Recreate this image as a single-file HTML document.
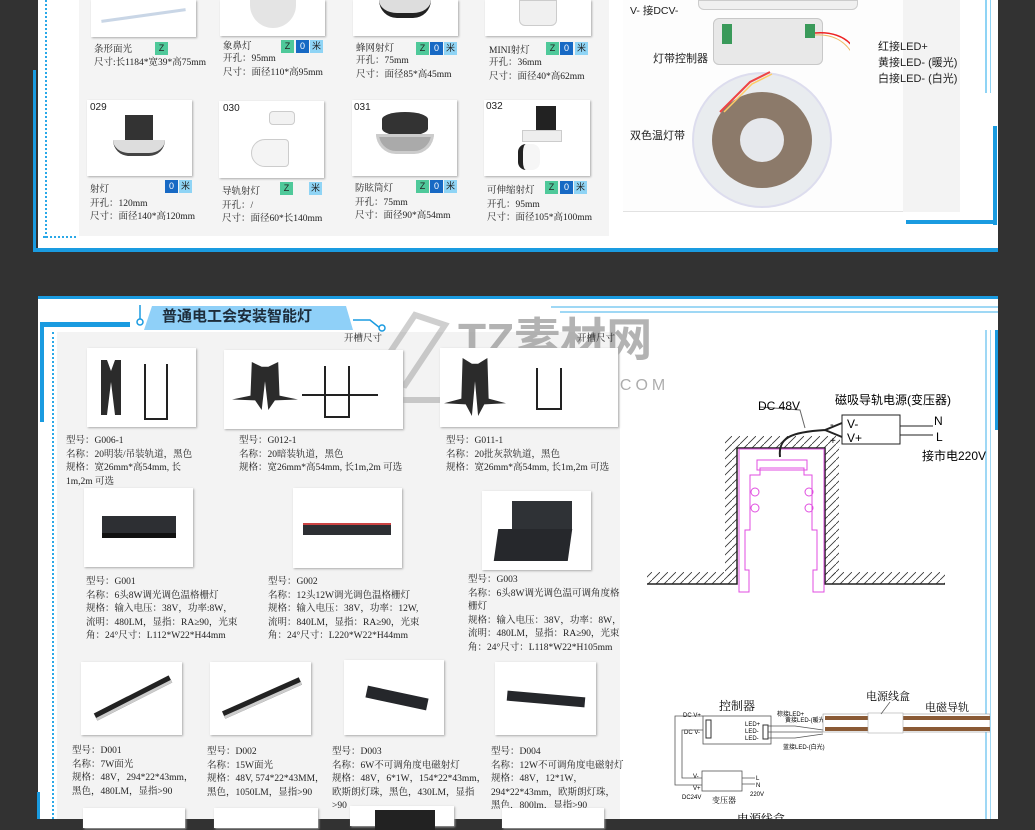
<!DOCTYPE html>
<html><head><meta charset="utf-8"><style>
*{margin:0;padding:0;box-sizing:border-box}
body{width:1035px;height:819px;overflow:hidden;background:#323232;position:relative;font-family:"Liberation Serif","Noto Serif CJK SC",serif;color:#222}
.a{position:absolute}
.t{position:absolute;font-size:9.5px;line-height:13.5px;white-space:nowrap}
.s{font-family:"Liberation Sans","Noto Sans CJK SC",sans-serif}
.img{position:absolute;background:#fff;box-shadow:1px 1px 2px #aaa}
.tag{position:absolute;width:13px;height:13px;font-size:9px;line-height:13px;text-align:center;font-family:"Liberation Sans","Noto Sans CJK SC",sans-serif}
.z{background:#4fc99a}.o{background:#1769c4;color:#fff}.m{background:#8fd4f5}
</style></head><body>

<!-- TOP PANEL -->
<div class="a" style="left:38px;top:0;width:960px;height:252px;background:#fff"></div>
<div class="a" style="left:79px;top:0;width:530px;height:236px;background:#f4f4f4"></div>
<div class="a" style="left:33px;top:70px;width:3px;height:182px;background:#1a9be0"></div>
<div class="a" style="left:33px;top:248px;width:965px;height:4px;background:#1a9be0"></div>
<div class="a" style="left:45px;top:0;width:0;height:238px;border-left:2px dotted #2aa8e8"></div>
<div class="a" style="left:43px;top:236px;width:33px;height:0;border-top:2px dotted #2aa8e8"></div>
<div class="a" style="left:993px;top:126px;width:4px;height:99px;background:#1a9be0"></div>
<div class="a" style="left:906px;top:220px;width:91px;height:4px;background:#1a9be0"></div>
<div class="a" style="left:985px;top:0;width:2px;height:93px;background:#8fd4f5"></div>
<div class="a" style="left:990px;top:0;width:1px;height:93px;background:#8fd4f5"></div>

<!-- top row images -->
<div class="img" style="left:91px;top:0;width:105px;height:37px"><div class="a" style="left:10px;top:14px;width:85px;height:3px;background:#c9d6e6;transform:rotate(-8deg)"></div></div>
<div class="img" style="left:220px;top:0;width:105px;height:36px"><div class="a" style="left:30px;top:0;width:46px;height:28px;border-radius:0 0 30px 30px;background:#e4e4e4"></div></div>
<div class="img" style="left:353px;top:0;width:105px;height:36px"><div class="a" style="left:26px;top:0;width:52px;height:18px;border-radius:0 0 20px 20px;background:#ddd;border-bottom:5px solid #222"></div></div>
<div class="img" style="left:485px;top:0;width:106px;height:36px"><div class="a" style="left:34px;top:0;width:38px;height:26px;border-radius:0 0 6px 6px;background:#f0f0f0;border:1px solid #ccc"></div></div>

<div class="t" style="left:94px;top:44px">条形面光</div><div class="tag z" style="left:155px;top:42px">Z</div>
<div class="t" style="left:94px;top:57px">尺寸:长1184*宽39*高75mm</div>
<div class="t" style="left:223px;top:41px">象鼻灯</div><div class="tag z" style="left:281px;top:40px">Z</div><div class="tag o" style="left:296px;top:40px">0</div><div class="tag m" style="left:310px;top:40px">米</div>
<div class="t" style="left:223px;top:53px">开孔：95mm<br>尺寸：面径110*高95mm</div>
<div class="t" style="left:356px;top:43px">蜂网射灯</div><div class="tag z" style="left:416px;top:42px">Z</div><div class="tag o" style="left:430px;top:42px">0</div><div class="tag m" style="left:444px;top:42px">米</div>
<div class="t" style="left:356px;top:55px">开孔：75mm<br>尺寸：面径85*高45mm</div>
<div class="t" style="left:489px;top:45px">MINI射灯</div><div class="tag z" style="left:546px;top:42px">Z</div><div class="tag o" style="left:560px;top:42px">0</div><div class="tag m" style="left:575px;top:42px">米</div>
<div class="t" style="left:489px;top:57px">开孔：36mm<br>尺寸：面径40*高62mm</div>

<!-- second row -->
<div class="img" style="left:87px;top:100px;width:105px;height:76px"><div class="t s" style="left:3px;top:1px;font-size:10px">029</div><div class="a" style="left:38px;top:15px;width:28px;height:28px;background:#333"></div><div class="a" style="left:26px;top:40px;width:52px;height:16px;border-radius:0 0 26px 26px;background:#ddd;border-bottom:3px solid #444"></div></div>
<div class="img" style="left:219px;top:101px;width:105px;height:77px"><div class="t s" style="left:4px;top:1px;font-size:10px">030</div><div class="a" style="left:50px;top:10px;width:26px;height:14px;background:#f2f2f2;border:1px solid #ccc;border-radius:4px"></div><div class="a" style="left:32px;top:38px;width:38px;height:28px;background:#f4f4f4;border:1px solid #ccc;border-radius:14px 4px 4px 14px"></div></div>
<div class="img" style="left:352px;top:100px;width:105px;height:76px"><div class="t s" style="left:2px;top:1px;font-size:10px">031</div><div class="a" style="left:30px;top:12px;width:46px;height:24px;background:#333;border-radius:50%/30%"></div><div class="a" style="left:24px;top:34px;width:58px;height:20px;border-radius:0 0 29px 29px;background:#aaa;border:3px solid #ccc"></div></div>
<div class="img" style="left:484px;top:100px;width:106px;height:76px"><div class="t s" style="left:2px;top:0;font-size:10px">032</div><div class="a" style="left:52px;top:6px;width:20px;height:24px;background:#222"></div><div class="a" style="left:38px;top:30px;width:40px;height:12px;background:#eee;border:1px solid #ccc"></div><div class="a" style="left:34px;top:44px;width:22px;height:26px;background:#f6f6f6;border-left:5px solid #222;border-radius:8px"></div></div>

<div class="tag o" style="left:165px;top:180px">0</div><div class="tag m" style="left:179px;top:180px">米</div>
<div class="t" style="left:90px;top:184px">射灯<br>开孔：120mm<br>尺寸：面径140*高120mm</div>
<div class="tag z" style="left:280px;top:182px">Z</div><div class="tag m" style="left:309px;top:182px">米</div>
<div class="t" style="left:222px;top:186px">导轨射灯<br>开孔：/<br>尺寸：面径60*长140mm</div>
<div class="tag z" style="left:416px;top:180px">Z</div><div class="tag o" style="left:430px;top:180px">0</div><div class="tag m" style="left:444px;top:180px">米</div>
<div class="t" style="left:355px;top:183px">防眩筒灯<br>开孔：75mm<br>尺寸：面径90*高54mm</div>
<div class="tag z" style="left:545px;top:181px">Z</div><div class="tag o" style="left:560px;top:181px">0</div><div class="tag m" style="left:574px;top:181px">米</div>
<div class="t" style="left:487px;top:185px">可伸缩射灯<br>开孔：95mm<br>尺寸：面径105*高100mm</div>

<!-- LED strip area -->
<div class="a" style="left:623px;top:0;width:337px;height:212px;background:#fdfdfd;border-bottom:1px solid #e2e2e2"></div>
<div class="a" style="left:903px;top:0;width:57px;height:212px;background:#f3f3f3"></div>
<div class="a" style="left:698px;top:0;width:160px;height:10px;background:#f0f0f0;border:1px solid #ccc;border-radius:0 0 6px 6px"></div>
<div class="a" style="left:713px;top:18px;width:110px;height:47px;background:#e8e8e8;border:1px solid #c8c8c8;border-radius:6px"></div>
<div class="a" style="left:722px;top:24px;width:10px;height:20px;background:#3a9a5a"></div>
<div class="a" style="left:805px;top:24px;width:10px;height:14px;background:#3a9a5a"></div>
<div class="a" style="left:692px;top:72px;width:140px;height:136px;border-radius:50%;background:#e9ecef;border:2px solid #dde"></div>
<div class="a" style="left:712px;top:92px;width:100px;height:96px;border-radius:50%;background:#8c7a6a"></div>
<div class="a" style="left:740px;top:118px;width:44px;height:44px;border-radius:50%;background:#e6e8ec"></div>
<svg class="a" style="left:620px;top:0" width="230" height="160"><path d="M195 33 C235 30 250 60 245 115" stroke="#e22" fill="none" stroke-width="1.5"/><path d="M195 35 C230 33 245 62 242 115" stroke="#eb6" fill="none" stroke-width="1"/><path d="M150 72 L130 82 L100 112" stroke="#e44" fill="none" stroke-width="2"/><path d="M152 74 L132 84 L104 112" stroke="#fc6" fill="none" stroke-width="1.5"/></svg>
<div class="t s" style="left:630px;top:5px;font-size:10.5px">V- 接DCV-</div>
<div class="t s" style="left:653px;top:53px;font-size:11px">灯带控制器</div>
<div class="t s" style="left:630px;top:130px;font-size:11px">双色温灯带</div>
<div class="t s" style="left:878px;top:39px;font-size:11px;line-height:16px">红接LED+<br>黄接LED- (暖光)<br>白接LED- (白光)</div>

<!-- BOTTOM PANEL -->
<div class="a" style="left:38px;top:296px;width:960px;height:523px;background:#fff"></div>
<div class="a" style="left:38px;top:296px;width:960px;height:3px;background:#1a9be0"></div>
<div class="a" style="left:57px;top:332px;width:563px;height:487px;background:#f3f3f3"></div>
<div class="a" style="left:40px;top:322px;width:90px;height:5px;background:#1a9be0"></div>
<div class="a" style="left:40px;top:322px;width:4px;height:100px;background:#1a9be0"></div>
<div class="a" style="left:37px;top:792px;width:3px;height:27px;background:#1a9be0"></div>
<div class="a" style="left:52px;top:332px;width:0;height:487px;border-left:2px dotted #2aa8e8"></div>
<div class="a" style="left:551px;top:306px;width:447px;height:2px;background:#9fd8f5"></div>
<div class="a" style="left:560px;top:311px;width:438px;height:2px;background:#9fd8f5"></div>
<div class="a" style="left:985px;top:330px;width:2px;height:489px;background:#9fd8f5"></div>
<div class="a" style="left:990px;top:330px;width:1px;height:489px;background:#9fd8f5"></div>
<div class="a" style="left:995px;top:330px;width:3px;height:100px;background:#1a9be0"></div>
<!-- title tab -->
<svg class="a" style="left:128px;top:298px" width="260" height="40"><path d="M12 7 L12 22" stroke="#1a9be0" stroke-width="1.5"/><circle cx="12" cy="24" r="3" fill="#fff" stroke="#1a9be0" stroke-width="1.5"/><path d="M24 8 L218 8 L225 32 L16 32 Z" fill="#8fd0f8"/><path d="M225 22 L242 22 L252 30" stroke="#1a9be0" stroke-width="1.5" fill="none"/><circle cx="254" cy="30" r="3" fill="#fff" stroke="#1a9be0" stroke-width="1.5"/></svg>
<div class="t s" style="left:162px;top:308px;font-size:15px;line-height:18px;font-weight:bold;color:#1d2c3a">普通电工会安装智能灯</div>

<!-- watermark -->
<svg class="a" style="left:355px;top:305px" width="110" height="120" opacity="0.35"><path d="M20 70 L60 10 L90 20 L50 80 Z M20 70 L20 95 L100 95 L100 80" stroke="#777" stroke-width="6" fill="none"/></svg>
<div class="t s" style="left:458px;top:312px;font-size:46px;line-height:56px;color:#9a9a9a;font-weight:bold;opacity:.75">TZ素材网</div>
<div class="t s" style="left:515px;top:376px;font-size:16px;line-height:20px;color:#999;letter-spacing:4px;opacity:.8">TZSUCAI.COM</div>

<!-- track rows -->
<div class="t" style="left:344px;top:333px">开槽尺寸</div>
<div class="t" style="left:577px;top:333px">开槽尺寸</div>
<div class="img" style="left:87px;top:348px;width:109px;height:79px"><div class="a" style="left:14px;top:12px;width:20px;height:55px;background:#2b2b2b;clip-path:polygon(0 0,30% 0,50% 20%,70% 0,100% 0,100% 100%,70% 100%,50% 40%,30% 100%,0 100%)"></div><div class="a" style="left:57px;top:16px;width:24px;height:56px;border:2px solid #222;border-top:none"></div></div>
<div class="img" style="left:224px;top:350px;width:179px;height:79px"><div class="a" style="left:8px;top:12px;width:66px;height:48px;background:#2b2b2b;clip-path:polygon(30% 0,45% 10%,55% 10%,70% 0,72% 70%,100% 78%,65% 80%,55% 100%,50% 40%,45% 100%,35% 80%,0 78%,28% 70%)"></div><div class="a" style="left:100px;top:16px;width:26px;height:52px;border:2px solid #222;border-top:none"></div><div class="a" style="left:78px;top:44px;width:76px;height:2px;background:#222"></div></div>
<div class="img" style="left:440px;top:348px;width:178px;height:79px"><div class="a" style="left:4px;top:10px;width:62px;height:58px;background:#2b2b2b;clip-path:polygon(30% 0,45% 10%,55% 10%,70% 0,72% 70%,100% 78%,65% 80%,55% 100%,50% 40%,45% 100%,35% 80%,0 78%,28% 70%)"></div><div class="a" style="left:96px;top:20px;width:26px;height:42px;border:2px solid #222;border-top:none"></div></div>
<div class="t" style="left:66px;top:435px">型号：G006-1<br>名称：20明装/吊装轨道，黑色<br>规格：宽26mm*高54mm, 长<br>1m,2m 可选</div>
<div class="t" style="left:239px;top:435px">型号：G012-1<br>名称：20暗装轨道，黑色<br>规格：宽26mm*高54mm, 长1m,2m 可选</div>
<div class="t" style="left:446px;top:435px">型号：G011-1<br>名称：20批灰款轨道，黑色<br>规格：宽26mm*高54mm, 长1m,2m 可选</div>

<div class="img" style="left:84px;top:488px;width:109px;height:79px"><div class="a" style="left:18px;top:28px;width:74px;height:22px;background:#2d2f33;border-bottom:5px solid #111"></div></div>
<div class="img" style="left:293px;top:488px;width:109px;height:80px"><div class="a" style="left:10px;top:35px;width:88px;height:12px;background:#2d2f33;border-top:2px solid #c44"></div></div>
<div class="img" style="left:482px;top:491px;width:109px;height:79px"><div class="a" style="left:30px;top:10px;width:60px;height:28px;background:#2f3236"></div><div class="a" style="left:14px;top:38px;width:74px;height:32px;background:#26282c;transform:skewX(-8deg)"></div></div>
<div class="t" style="left:86px;top:576px">型号：G001<br>名称：6头8W调光调色温格栅灯<br>规格：输入电压：38V，功率:8W，<br>流明：480LM，显指：RA≥90，光束<br>角：24°尺寸：L112*W22*H44mm</div>
<div class="t" style="left:268px;top:576px">型号：G002<br>名称：12头12W调光调色温格栅灯<br>规格：输入电压：38V，功率：12W,<br>流明：840LM，显指：RA≥90，光束<br>角：24°尺寸：L220*W22*H44mm</div>
<div class="t" style="left:468px;top:574px">型号：G003<br>名称：6头8W调光调色温可调角度格<br>栅灯<br>规格：输入电压：38V，功率：8W，<br>流明：480LM，显指：RA≥90，光束<br>角：24°尺寸：L118*W22*H105mm</div>

<div class="img" style="left:81px;top:662px;width:101px;height:73px"><div class="a" style="left:10px;top:32px;width:84px;height:8px;background:#222;border-bottom:3px solid #ccc;transform:rotate(-27deg)"></div></div>
<div class="img" style="left:210px;top:662px;width:101px;height:73px"><div class="a" style="left:10px;top:32px;width:84px;height:8px;background:#222;border-bottom:3px solid #ccc;transform:rotate(-24deg)"></div></div>
<div class="img" style="left:344px;top:660px;width:100px;height:75px"><div class="a" style="left:22px;top:32px;width:62px;height:12px;background:#25272b;transform:rotate(12deg)"></div></div>
<div class="img" style="left:495px;top:662px;width:101px;height:73px"><div class="a" style="left:12px;top:32px;width:78px;height:10px;background:#25272b;transform:rotate(5deg)"></div></div>
<div class="t" style="left:72px;top:745px">型号：D001<br>名称：7W面光<br>规格：48V，294*22*43mm，<br>黑色，480LM，显指&gt;90</div>
<div class="t" style="left:207px;top:746px">型号：D002<br>名称：15W面光<br>规格：48V, 574*22*43MM，<br>黑色，1050LM，显指&gt;90</div>
<div class="t" style="left:332px;top:746px">型号：D003<br>名称：6W不可调角度电磁射灯<br>规格：48V，6*1W，154*22*43mm，<br>欧斯朗灯珠，黑色，430LM，显指<br>&gt;90</div>
<div class="t" style="left:491px;top:746px">型号：D004<br>名称：12W不可调角度电磁射灯<br>规格：48V，12*1W，<br>294*22*43mm，欧斯朗灯珠，<br>黑色，800lm，显指&gt;90</div>
<div class="img" style="left:83px;top:808px;width:102px;height:20px"></div>
<div class="img" style="left:214px;top:808px;width:104px;height:20px"></div>
<div class="img" style="left:350px;top:806px;width:104px;height:20px"><div class="a" style="left:25px;top:4px;width:60px;height:20px;background:#222"></div></div>
<div class="img" style="left:502px;top:808px;width:102px;height:20px"></div>

<!-- right diagrams -->
<svg class="a" style="left:620px;top:380px" width="370" height="439" font-family="Liberation Sans,Noto Sans CJK SC,sans-serif">
<defs><pattern id="h" width="8" height="8" patternUnits="userSpaceOnUse"><path d="M0 8 L8 0" stroke="#333" stroke-width="0.8"/></pattern></defs>
<rect x="105" y="56" width="115" height="12" fill="url(#h)"/>
<rect x="105" y="68" width="12" height="128" fill="url(#h)"/>
<rect x="205" y="68" width="14" height="128" fill="url(#h)"/>
<rect x="27" y="192" width="90" height="12" fill="url(#h)"/>
<rect x="205" y="192" width="120" height="12" fill="url(#h)"/>
<path d="M27 204 L117 204 L117 68 L205 68 L205 204 L325 204" stroke="#222" stroke-width="1.5" fill="none"/>
<path d="M119 69 L204 69 L204 212 L193 212 L193 190 L197 190 L197 150 L192 150 L192 95 L184 95 L184 88 L140 88 L140 95 L130 95 L130 150 L125 150 L125 190 L129 190 L129 212 L119 212 Z" stroke="#e04ee0" fill="none" stroke-width="1"/>
<rect x="137" y="80" width="50" height="10" fill="none" stroke="#e04ee0"/>
<circle cx="135" cy="112" r="4" fill="none" stroke="#e04ee0"/><circle cx="135" cy="128" r="4" fill="none" stroke="#e04ee0"/>
<circle cx="189" cy="112" r="4" fill="none" stroke="#e04ee0"/><circle cx="189" cy="128" r="4" fill="none" stroke="#e04ee0"/>
<path d="M160 77 C158 58 170 52 205 50 L222 43 M205 50 L222 57" stroke="#222" stroke-width="2" fill="none"/>
<path d="M140 27 L180 30 L185 48" stroke="#666" fill="none"/>
<text x="138" y="30" font-size="12">DC 48V</text>
<text x="215" y="24" font-size="12">磁吸导轨电源(变压器)</text>
<rect x="222" y="35" width="58" height="29" fill="#fff" stroke="#222"/>
<text x="227" y="48" font-size="12">V-</text><text x="227" y="62" font-size="12">V+</text>
<text x="210" y="48" font-size="11">-</text><text x="210" y="64" font-size="10">+</text>
<path d="M280 46 L313 46 M280 55 L313 55" stroke="#222"/>
<text x="314" y="45" font-size="12">N</text><text x="316" y="61" font-size="12">L</text>
<text x="302" y="80" font-size="12">接市电220V</text>

<text x="99" y="330" font-size="12" font-family="Liberation Serif,Noto Serif CJK SC,serif">控制器</text>
<rect x="83" y="336" width="68" height="28" fill="#fff" stroke="#555" stroke-width="0.8"/>
<rect x="86" y="340" width="5" height="18" fill="none" stroke="#333"/>
<rect x="143" y="345" width="5" height="14" fill="none" stroke="#333"/>
<text x="63" y="337" font-size="6">DC V+</text><text x="64" y="354" font-size="6">DC V-</text>
<text x="125" y="346" font-size="6">LED+</text><text x="125" y="353" font-size="6">LED-</text><text x="125" y="360" font-size="6">LED-</text>
<path d="M83 336 L55 336 L55 405 L82 405 M83 350 L62 350 L62 398 L82 398" stroke="#555" fill="none" stroke-width="0.8"/>
<rect x="82" y="391" width="40" height="20" fill="#fff" stroke="#555" stroke-width="0.8"/>
<text x="73" y="398" font-size="6">V-</text><text x="73" y="410" font-size="6">V+</text>
<text x="62" y="419" font-size="6">DC24V</text>
<text x="92" y="423" font-size="8" font-family="Liberation Serif,Noto Serif CJK SC,serif">变压器</text>
<path d="M122 398 L135 398 M122 404 L135 404" stroke="#555" stroke-width="0.8"/>
<text x="136" y="400" font-size="6">L</text><text x="136" y="407" font-size="6">N</text><text x="130" y="416" font-size="6">220V</text>
<path d="M148 346 L175 346 L203 350 M148 352 L203 352 M148 358 L175 358 L203 354" stroke="#555" fill="none" stroke-width="0.7"/>
<text x="157" y="336" font-size="6">棕接LED+</text><text x="165" y="342" font-size="6">黄接LED-(暖光)</text><text x="163" y="369" font-size="6">蓝接LED-(白光)</text>
<rect x="203" y="334" width="167" height="18" fill="#fff" stroke="#999" stroke-width="0.6"/>
<rect x="205" y="336" width="165" height="4" fill="#8a5a35"/>
<rect x="205" y="347" width="165" height="4" fill="#8a5a35"/>
<rect x="248" y="333" width="35" height="20" fill="#fff" stroke="#aaa" stroke-width="0.6"/>
<text x="246" y="320" font-size="11" font-family="Liberation Serif,Noto Serif CJK SC,serif">电源线盒</text>
<text x="305" y="331" font-size="11" font-family="Liberation Serif,Noto Serif CJK SC,serif">电磁导轨</text>
<path d="M270 322 L261 334" stroke="#555" stroke-width="0.7"/>
<text x="117" y="443" font-size="12" font-family="Liberation Serif,Noto Serif CJK SC,serif">电源线盒</text>
</svg>
</body></html>
